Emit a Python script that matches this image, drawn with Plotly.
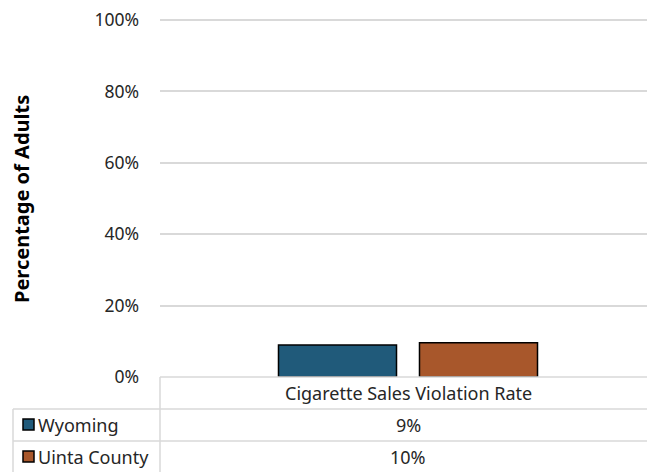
import plotly.graph_objects as go

categories = ["Cigarette Sales Violation Rate"]
series_names = ["Wyoming", "Uinta County"]
wyoming_values = [9.0]
uinta_values = [9.6]
wyoming_labels = ["9%"]
uinta_labels = ["10%"]
tick_vals = [0, 20, 40, 60, 80, 100]
tick_text = ["0%", "20%", "40%", "60%", "80%", "100%"]

colors = ["#205a7a", "#a8572b"]
FONT = "Noto Sans"
TXT = "#262626"
W, H = 662, 472
L, T, B = 160, 19, 95
plot_h = H - T - B
plot_w = W - L
CENTER_PX = 408
GROUP_PX = 282

def px_x(x):
    return (x - L) / plot_w

def px_y(y):
    return (H - B - y) / plot_h

d = px_x(CENTER_PX) - 0.5
xrange = [-0.5 - d, 0.5 - d]

fig = go.Figure()
for name, vals, col in zip(series_names, [wyoming_values, uinta_values], colors):
    fig.add_trace(go.Bar(x=categories, y=vals, name=name,
                         marker=dict(color=col, line=dict(color="#000000", width=1.5)),
                         showlegend=False))

shapes = []
line = dict(color="#d9d9d9", width=1.5)
shapes.append(dict(type="line", xref="paper", yref="paper", x0=0, x1=1, y0=0, y1=0, line=line))
for yy in [409, 441]:
    shapes.append(dict(type="line", xref="paper", yref="paper", x0=px_x(13), x1=1, y0=px_y(yy), y1=px_y(yy), line=line))
shapes.append(dict(type="line", xref="paper", yref="paper", x0=0, x1=0, y0=0, y1=px_y(472), line=line))
shapes.append(dict(type="line", xref="paper", yref="paper", x0=px_x(13), x1=px_x(13), y0=px_y(409), y1=px_y(472), line=line))

annotations = []
cx = px_x(CENTER_PX)
annotations.append(dict(xref="paper", yref="paper", x=cx, y=px_y(393), text=categories[0], showarrow=False,
                        font=dict(family=FONT, size=18, color=TXT), xanchor="center", yanchor="middle"))
row_y = [425, 457]
for name, labels, col, ry in zip(series_names, [wyoming_labels, uinta_labels], colors, row_y):
    shapes.append(dict(type="rect", xref="paper", yref="paper", x0=px_x(23), x1=px_x(34), y0=px_y(ry - 6), y1=px_y(ry + 5),
                       fillcolor=col, line=dict(color="#000000", width=1.5)))
    annotations.append(dict(xref="paper", yref="paper", x=px_x(36), y=px_y(ry), text=name, showarrow=False,
                            font=dict(family=FONT, size=18, color=TXT), xanchor="left", yanchor="middle"))
    annotations.append(dict(xref="paper", yref="paper", x=cx, y=px_y(ry), text=labels[0], showarrow=False,
                            font=dict(family=FONT, size=18, color=TXT), xanchor="center", yanchor="middle"))

annotations.append(dict(xref="paper", yref="paper", x=px_x(21), y=px_y(199), text="<b>Percentage of Adults</b>", textangle=-90,
                        showarrow=False, font=dict(family=FONT, size=20, color="#000000"), xanchor="center", yanchor="middle"))

fig.update_layout(
    width=W, height=H,
    margin=dict(l=L, r=0, t=T, b=B, autoexpand=False),
    paper_bgcolor="white", plot_bgcolor="white",
    barmode="group", bargap=1 - GROUP_PX / plot_w, bargroupgap=0.163,
    shapes=shapes, annotations=annotations,
    xaxis=dict(showticklabels=False, showgrid=False, zeroline=False, showline=False, range=xrange),
    yaxis=dict(range=[0, 100.3], tickvals=tick_vals, ticktext=tick_text, showgrid=True, gridcolor="#d9d9d9", gridwidth=1.5,
               zeroline=False, showline=False, ticklabelstandoff=20,
               tickfont=dict(family=FONT, size=17.5, color=TXT)),
    font=dict(family=FONT),
)

fig.write_html("out.html", config={"displayModeBar": False},
               post_script="document.body.style.margin='0';document.body.style.overflow='hidden';")
